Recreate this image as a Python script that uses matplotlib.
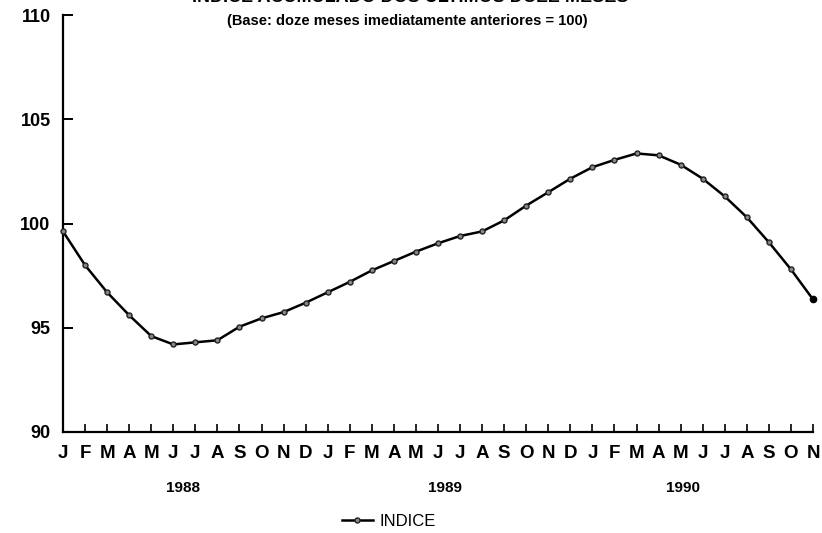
import matplotlib
matplotlib.use("Agg")
import matplotlib.pyplot as plt
import numpy as np

# monthly index, Jan 1988 .. Nov 1990
months = ["J", "F", "M", "A", "M", "J", "J", "A", "S", "O", "N", "D"] * 2 + \
         ["J", "F", "M", "A", "M", "J", "J", "A", "S", "O", "N"]
indice = [99.62, 98.0, 96.7, 95.6, 94.6, 94.2, 94.3, 94.4, 95.05, 95.45, 95.75, 96.2,
          96.7, 97.2, 97.75, 98.2, 98.65, 99.05, 99.4, 99.62, 100.15, 100.86, 101.5, 102.15,
          102.7, 103.05, 103.36, 103.27, 102.82, 102.15, 101.3, 100.3, 99.1, 97.8, 96.36]
years = ["1988", "1989", "1990"]
year_pos = [5.45, 17.3, 28.1]
yticks = [90, 95, 100, 105, 110]

FONT = "Liberation Sans"

fig = plt.figure(figsize=(8.22, 5.33), dpi=100)
ax = fig.add_axes([63 / 822, 1 - 432 / 533, 750 / 822, 417 / 533])

x = np.arange(len(indice))
ax.plot(x, indice, color="black", lw=1.8, marker="o", ms=3.6,
        mfc="#888888", mec="#222222", mew=1.0, label="INDICE", zorder=3,
        clip_on=False)
ax.plot(x[-1], indice[-1], "o", color="black", ms=4.5, zorder=4, clip_on=False)

ax.set_xlim(0, len(indice) - 1)
ax.set_ylim(90, 110)
ax.set_yticks(yticks)
ax.set_xticks(x, months)
for s in ["top", "right"]:
    ax.spines[s].set_visible(False)
for s in ["left", "bottom"]:
    ax.spines[s].set_linewidth(1.6)
ax.tick_params(axis="y", direction="in", length=7, width=1.4, pad=9)
ax.tick_params(axis="x", direction="in", length=6, width=1.2, pad=9)
for lab in ax.get_yticklabels():
    lab.set_fontfamily(FONT)
    lab.set_fontweight("bold")
    lab.set_fontsize(13)
for lab in ax.get_xticklabels():
    lab.set_fontfamily(FONT)
    lab.set_fontweight("bold")
    lab.set_fontsize(13.5)

for yr, xp in zip(years, year_pos):
    ax.text(xp, -0.135, yr, transform=ax.get_xaxis_transform(), ha="center",
            va="center", fontsize=11, fontweight="bold", family=FONT)

# title is cut off at the top edge of the scan
fig.text(410 / 822, 1 + 2 / 533, "INDICE ACUMULADO DOS ÚLTIMOS DOZE MESES",
         ha="center", va="center", fontsize=13, fontweight="bold", family=FONT)
fig.text(407 / 822, 1 - 21 / 533, "(Base: doze meses imediatamente anteriores = 100)",
         ha="center", va="center", fontsize=10.5, fontweight="heavy", family=FONT)

fig.legend(loc="center", bbox_to_anchor=(389 / 822, 1 - 521 / 533), frameon=False,
           handlelength=1.9, handletextpad=0.4,
           prop={"family": FONT, "size": 12})

fig.savefig("out.png", dpi=100)
